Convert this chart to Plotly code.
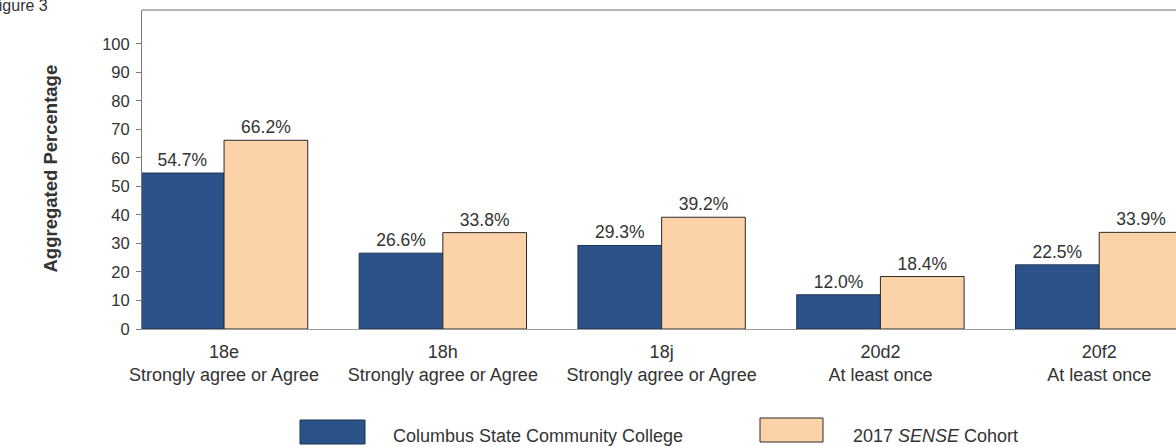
import plotly.graph_objects as go

categories = ["18e<br>Strongly agree or Agree", "18h<br>Strongly agree or Agree",
              "18j<br>Strongly agree or Agree", "20d2<br>At least once", "20f2<br>At least once"]
college_vals = [54.7, 26.6, 29.3, 12.0, 22.5]
cohort_vals = [66.2, 33.8, 39.2, 18.4, 33.9]
series_names = ["Columbus State Community College", "2017 <i>SENSE</i> Cohort"]
y_ticks = [0, 10, 20, 30, 40, 50, 60, 70, 80, 90, 100]

BLUE = "#2c5389"
PEACH = "#fcd3a8"
FONT = "Arial, Liberation Sans, sans-serif"
TXT = "#333333"

W, H = 1176, 447
L, R, T, B = 142, 0, 10, 118

fig = go.Figure()
fig.add_trace(go.Bar(
    x=list(range(len(categories))), y=college_vals, name=series_names[0],
    marker=dict(color=BLUE, line=dict(color="#1f3350", width=1)),
    text=[f"{v:.1f}%" for v in college_vals], textposition="outside",
    textfont=dict(family=FONT, size=17.5, color=TXT), cliponaxis=False,
    showlegend=False,
))
fig.add_trace(go.Bar(
    x=list(range(len(categories))), y=cohort_vals, name=series_names[1],
    marker=dict(color=PEACH, line=dict(color="#2a2a2a", width=1)),
    text=[f"{v:.1f}%" for v in cohort_vals], textposition="outside",
    textfont=dict(family=FONT, size=17.5, color=TXT), cliponaxis=True,
    showlegend=False,
))

fig.update_layout(
    width=W, height=H, margin=dict(l=L, r=R, t=T, b=B),
    paper_bgcolor="white", plot_bgcolor="white",
    barmode="group", bargap=0.235, bargroupgap=0,
    font=dict(family=FONT, color=TXT, size=17),
    uniformtext=dict(mode=False),
)
fig.update_xaxes(
    range=[-0.375, 4.351], tickmode="array", tickvals=list(range(len(categories))),
    ticktext=categories, showgrid=False, zeroline=False,
    showline=True, linecolor="#9a9a9a", linewidth=1,
    ticks="", ticklabelstandoff=6,
    tickfont=dict(family=FONT, size=18, color=TXT),
)
fig.update_yaxes(
    range=[0, 111.9], tickmode="array", tickvals=y_ticks, ticktext=[str(v) for v in y_ticks],
    showgrid=False, zeroline=False, showline=True, linecolor="#7a7a7a", linewidth=1,
    ticks="outside", ticklen=5, tickcolor="#7a7a7a", ticklabelstandoff=3,
    tickfont=dict(family=FONT, size=16.5, color=TXT),
)

# top frame line
fig.add_shape(type="line", xref="paper", yref="paper", x0=0, x1=1, y0=1, y1=1,
              line=dict(color="#6f6f6f", width=1.2))

pw = W - L - R
ph = H - T - B
def px(x):
    return (x - L) / pw
def py(y):
    return (H - B - y) / ph

# y-axis title
fig.add_annotation(text="<b>Aggregated Percentage</b>", xref="paper", yref="paper",
                   x=px(37), y=py(169), textangle=-90, showarrow=False,
                   font=dict(family=FONT, size=18.5, color=TXT))
# figure caption (cut off at page edge as in the scan)
fig.add_annotation(text="Figure 3", xref="paper", yref="paper", x=px(-13), y=py(5),
                   xanchor="left", yanchor="middle", showarrow=False,
                   font=dict(family=FONT, size=16, color=TXT))

# custom legend
legend_items = [(BLUE, "#1f3350", 300, 365, 420, 444, 391), (PEACH, "#2a2a2a", 760, 823, 418, 442, 851)]
for (fc, lc, x0, x1, y0, y1, tx), name in zip(legend_items, series_names):
    fig.add_shape(type="rect", xref="paper", yref="paper", x0=px(x0), x1=px(x1),
                  y0=py(y1), y1=py(y0), fillcolor=fc, line=dict(color=lc, width=1))
    fig.add_annotation(text=name, xref="paper", yref="paper", x=px(tx), y=py(436),
                       xanchor="left", yanchor="middle", showarrow=False,
                       font=dict(family=FONT, size=18, color=TXT))

fig.write_html("out.html")
